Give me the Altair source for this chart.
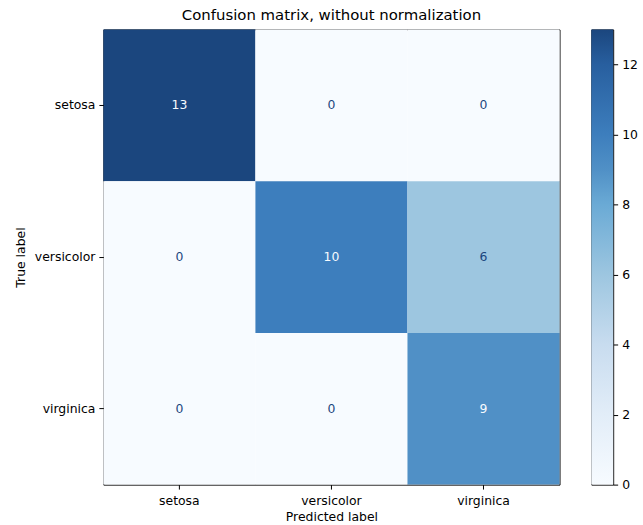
import altair as alt
import pandas as pd

# Iris classifier results: rows are true classes, columns are predicted classes
classes = ["setosa", "versicolor", "virginica"]
counts = [
    [13, 0, 0],
    [0, 10, 6],
    [0, 0, 9],
]
cbar_ticks = [0, 2, 4, 6, 8, 10, 12]

# Blue ramp anchors (value -> colour) used by both the cells and the colour bar
ramp_values = [0, 2, 4, 6, 8, 9, 10, 12, 13]
ramp_colors = ["#f7fbff", "#e2edf8", "#c8dcef", "#9dc6e0", "#6aaad5",
               "#5090c6", "#3d7ebd", "#285f9f", "#1b467e"]

rows = []
for i, t in enumerate(classes):
    for j, p in enumerate(classes):
        rows.append({"true": t, "predicted": p, "count": counts[i][j]})
df = pd.DataFrame(rows)

vmin = 0
vmax = max(max(r) for r in counts)
threshold = (vmin + vmax) / 2

FONT = "DejaVu Sans"
FS = 12.5

axis_common = dict(
    domain=False, grid=False, ticks=True, tickColor="black", tickSize=4.5,
    tickWidth=1, labelFont=FONT, labelFontSize=FS,
    labelColor="black", titleFont=FONT, titleFontSize=FS,
    titleFontWeight="normal", titleColor="black",
)

base = alt.Chart(df).encode(
    x=alt.X("predicted:N", sort=classes,
            scale=alt.Scale(paddingInner=0, paddingOuter=0),
            axis=alt.Axis(title="Predicted label", labelAngle=0, labelPadding=5,
                          titlePadding=4, **axis_common)),
    y=alt.Y("true:N", sort=classes,
            scale=alt.Scale(paddingInner=0, paddingOuter=0),
            axis=alt.Axis(title="True label", labelPadding=4, titlePadding=7,
                          **axis_common)),
)

cells = base.mark_rect().encode(
    color=alt.Color("count:Q",
                    scale=alt.Scale(domain=ramp_values, range=ramp_colors),
                    legend=None)
)

labels = base.mark_text(font=FONT, fontSize=FS).encode(
    text="count:Q",
    color=alt.condition(alt.datum["count"] > threshold,
                        alt.value(ramp_colors[0]), alt.value(ramp_colors[-1])),
)

heat = alt.layer(cells, labels).properties(
    width=459, height=458,
    title=alt.TitleParams("Confusion matrix, without normalization",
                          font=FONT, fontSize=15, fontWeight="normal",
                          color="black", offset=7, anchor="middle"),
)

# Colour bar drawn as a gradient-filled rect on its own value axis
bar_df = pd.DataFrame({"lo": [vmin], "hi": [vmax]})
gradient = alt.Gradient(
    gradient="linear",
    stops=[alt.GradientStop(color=c, offset=(v - vmin) / (vmax - vmin))
           for v, c in zip(ramp_values, ramp_colors)],
    x1=0, x2=0, y1=1, y2=0,
)
colorbar = alt.Chart(bar_df).mark_rect(color=gradient).encode(
    x=alt.value(0), x2=alt.value(22),
    y=alt.Y("lo:Q", scale=alt.Scale(domain=[vmin, vmax], nice=False, zero=False),
            axis=alt.Axis(orient="right", values=cbar_ticks, title=None,
                          labelPadding=4, **axis_common)),
    y2="hi:Q",
).properties(width=22, height=458)

chart = alt.hconcat(heat, colorbar, spacing=30).configure_view(
    stroke="black", strokeWidth=1
).properties(
    padding={"left": 14, "top": 5, "right": 5, "bottom": 2},
    background="white",
)

chart.save("out.html", embed_options={"renderer": "svg", "actions": False})
